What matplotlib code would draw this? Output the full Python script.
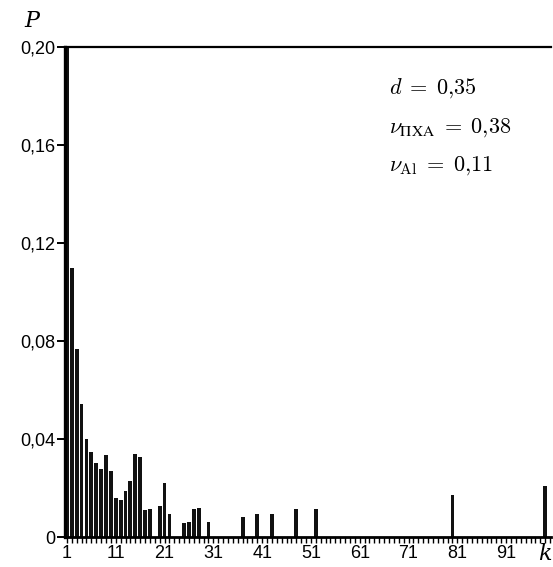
import matplotlib.pyplot as plt
from matplotlib.ticker import FixedLocator, FuncFormatter

plt.rcParams['mathtext.fontset'] = 'cm'

# agglomerate size k and probability P(k)
k = [1, 2, 3, 4, 5, 6, 7, 8, 9, 10,
     11, 12, 13, 14, 15, 16, 17, 18, 20,
     21, 22, 25, 26, 27, 28, 30,
     37, 40, 43, 48, 52, 80, 99]
p = [0.200, 0.110, 0.0766, 0.0541, 0.0401, 0.0347, 0.0302, 0.0277, 0.0333, 0.0268,
     0.0161, 0.0151, 0.0188, 0.0230, 0.0339, 0.0328, 0.0110, 0.0115, 0.0127,
     0.0219, 0.0094, 0.0057, 0.0060, 0.0113, 0.0117, 0.0063,
     0.0080, 0.0094, 0.0094, 0.0113, 0.0113, 0.0171, 0.0209]

x_labels = [1, 11, 21, 31, 41, 51, 61, 71, 81, 91]
y_ticks = [0, 0.04, 0.08, 0.12, 0.16, 0.20]

fig = plt.figure(figsize=(5.53, 5.67), dpi=100)
ax = fig.add_axes([65 / 553, 30 / 567, 486 / 553, 490 / 567])

ax.bar(k, p, width=0.78, color='#111111', linewidth=0)

ax.set_xlim(0.6, 100.2)
ax.set_ylim(0, 0.20)

ax.spines['right'].set_visible(False)
ax.spines['left'].set_linewidth(2.4)
ax.spines['bottom'].set_linewidth(2.0)
ax.spines['top'].set_linewidth(1.6)

ax.xaxis.set_major_locator(FixedLocator(x_labels))
ax.xaxis.set_minor_locator(FixedLocator(range(1, 101)))
ax.tick_params(axis='x', which='both', direction='out', length=4, width=1.0,
               labelsize=13, pad=2)
ax.set_yticks(y_ticks)
ax.yaxis.set_major_formatter(FuncFormatter(
    lambda v, pos: '0' if v == 0 else f'{v:.2f}'.replace('.', ',')))
ax.tick_params(axis='y', direction='out', length=6, width=1.4, labelsize=13, pad=1)
for lab in ax.get_xticklabels() + ax.get_yticklabels():
    lab.set_family('Liberation Sans')

ax.text(99, -0.012, 'k', transform=ax.get_xaxis_transform(), ha='center', va='top',
        fontsize=16, fontfamily='DejaVu Serif', style='italic')
ax.text(-0.068, 1.03, 'P', transform=ax.transAxes, ha='center', va='bottom',
        fontsize=16, fontfamily='DejaVu Serif', style='italic')

ax.text(0.667, 0.905, r'$d\;=\;0{,}35$', transform=ax.transAxes, fontsize=16)
ax.text(0.667, 0.825, r'$\nu_{\mathrm{ПХА}}\;=\;0{,}38$', transform=ax.transAxes, fontsize=16)
ax.text(0.667, 0.748, r'$\nu_{\mathrm{Al}}\;=\;0{,}11$', transform=ax.transAxes, fontsize=16)

plt.savefig('out.png', dpi=100)
